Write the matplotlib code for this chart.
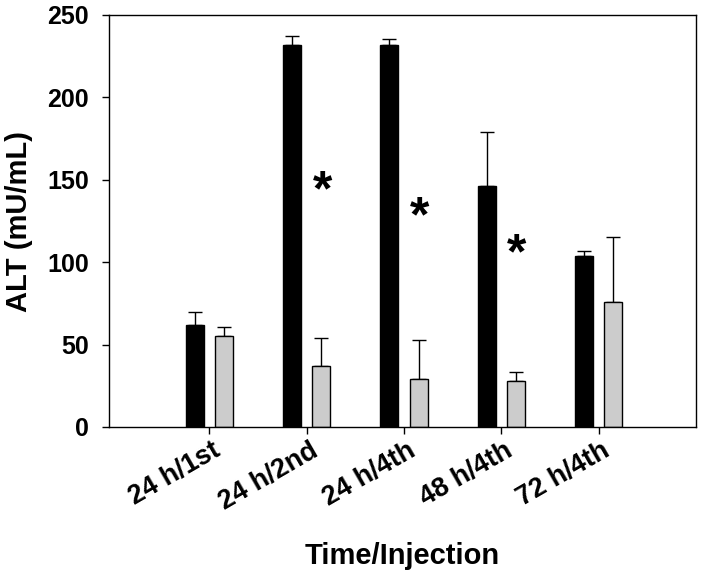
import numpy as np
import matplotlib
matplotlib.use('Agg')
import matplotlib.pyplot as plt
import matplotlib.transforms as mtransforms

plt.rcParams['font.family'] = ['Liberation Sans', 'DejaVu Sans']
plt.rcParams['font.weight'] = 'bold'

# data
groups = ['24 h/1st', '24 h/2nd', '24 h/4th', '48 h/4th', '72 h/4th']
black_vals = [62, 232, 232, 146, 104]
black_err = [7.5, 5, 3.5, 33, 2.5]
gray_vals = [55.5, 37, 29, 28, 76]
gray_err = [5, 17, 24, 5.5, 39]
star_groups = [1, 2, 3]
star_heights = [149, 133, 111]

x = np.arange(len(groups))
w = 0.185
off = 0.15

fig = plt.figure(figsize=(7.04, 5.79), dpi=100)
ax = fig.add_axes([109/704, 1-427/579, 587/704, 412/579])

ax.bar(x-off, black_vals, w, color='black', edgecolor='black', linewidth=1, zorder=2)
ax.bar(x+off, gray_vals, w, color='#cccccc', edgecolor='black', linewidth=1, zorder=2)
ax.errorbar(x-off, black_vals, yerr=[np.zeros(5), black_err], fmt='none',
            ecolor='black', elinewidth=1, capsize=5, capthick=1, zorder=1)
ax.errorbar(x+off, gray_vals, yerr=[np.zeros(5), gray_err], fmt='none',
            ecolor='black', elinewidth=1, capsize=5, capthick=1, zorder=1)

# stars: baseline shifted so the glyph centre sits on the value
fs = 36
star_tr = ax.transData + mtransforms.ScaledTranslation(0, -0.48*fs/72, fig.dpi_scale_trans)
for g, h in zip(star_groups, star_heights):
    ax.text(g+0.16, h, '*', fontsize=fs, fontweight='bold', ha='center',
            va='baseline', transform=star_tr)

ax.set_xlim(-1.03, 5.0)
ax.set_ylim(0, 250)
ax.set_yticks([0, 50, 100, 150, 200, 250])
ax.set_xticks(x)
ax.set_xticklabels(groups, rotation=30, ha='right', rotation_mode='anchor')
ax.tick_params(axis='both', direction='out', length=5, width=1)
ax.tick_params(axis='x', pad=2.5, labelsize=19.5)
ax.tick_params(axis='y', pad=9.5, labelsize=18)
shift = mtransforms.ScaledTranslation(3/100, 0, fig.dpi_scale_trans)
for lab in ax.get_xticklabels():
    lab.set_transform(lab.get_transform() + shift)
for s in ax.spines.values():
    s.set_linewidth(1)

ax.set_xlabel('Time/Injection', fontsize=21, fontweight='bold')
ax.set_ylabel('ALT (mU/mL)', fontsize=21, fontweight='bold')
ax.xaxis.set_label_coords(0.5, -0.28)
ax.yaxis.set_label_coords(-0.13, 0.5)

plt.savefig('out.png')
